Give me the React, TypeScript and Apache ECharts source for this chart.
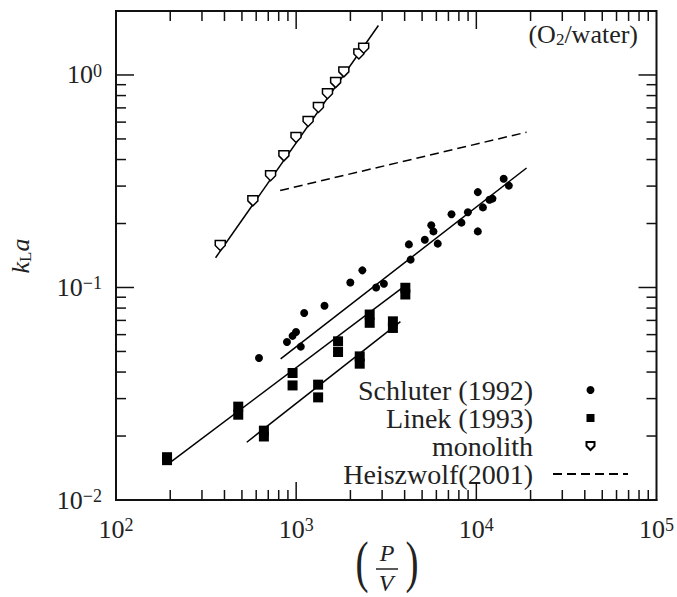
import { useEffect, useRef, useState } from 'react';
import * as echarts from 'echarts';

// ---- data ----
const schluterX = [622, 889, 955, 998, 1061, 1108, 1436, 1998, 2330, 2779, 3069, 4223, 4317, 5177, 5622, 5780, 6107, 7283, 8266, 8978, 10188, 10188, 10884, 11820, 12290, 14180, 15150];
const schluterY = [0.0466, 0.0554, 0.0592, 0.0617, 0.0527, 0.0758, 0.082, 0.1055, 0.1204, 0.1, 0.1042, 0.1595, 0.1352, 0.1677, 0.1962, 0.1836, 0.1608, 0.2212, 0.2019, 0.2258, 0.2811, 0.1836, 0.2382, 0.2588, 0.262, 0.3249, 0.3016];

const linekX = [192, 192, 477, 477, 955, 955, 1708, 1708, 2559, 2559, 4036, 4036, 662, 662, 1324, 1324, 2253, 2253, 3443, 3443];
const linekY = [0.0159, 0.0154, 0.0275, 0.0252, 0.0396, 0.0346, 0.0558, 0.0497, 0.0746, 0.0682, 0.0997, 0.0927, 0.0212, 0.0199, 0.0349, 0.0304, 0.0474, 0.0438, 0.0693, 0.0645];

const monolithX = [379, 575, 721, 855, 998, 1165, 1329, 1492, 1656, 1839, 2228, 2370];
const monolithY = [0.1575, 0.2556, 0.3357, 0.4164, 0.5076, 0.604, 0.7036, 0.8165, 0.9207, 1.034, 1.255, 1.336];

const heiszwolfX = [815, 19000];
const heiszwolfY = [0.286, 0.538];

const fitLinekUpperX = [195, 4150];
const fitLinekUpperY = [0.0148, 0.104];
const fitLinekLowerX = [532, 3790];
const fitLinekLowerY = [0.0187, 0.0691];
const fitSchluterX = [820, 19000];
const fitSchluterY = [0.0461, 0.365];
const fitMonolithX = [357, 2860];
const fitMonolithY = [0.138, 1.71];

const xMin = 100;
const xMax = 100000;
const yMin = 0.01;
const yMax = 2;
const xMajorTicks = [1000, 10000];
const xMinorTicks = [200, 300, 400, 500, 600, 700, 800, 900, 2000, 3000, 4000, 5000, 6000, 7000, 8000, 9000, 20000, 30000, 40000, 50000, 60000, 70000, 80000, 90000];
const yMajorTicks = [0.1, 1];
const yMinorTicks = [0.02, 0.03, 0.04, 0.05, 0.06, 0.07, 0.08, 0.09, 0.2, 0.3, 0.4, 0.5, 0.6, 0.7, 0.8, 0.9];

const legendNames = ['Schluter (1992)', 'Linek (1993)', 'monolith', 'Heiszwolf(2001)'];

const FONT = 'Liberation Serif';
const TXT = '#222';
const AX = '#111';

const pairs = (xs: number[], ys: number[]) => xs.map((x, i) => [x, ys[i]]);

const fmt = (v: number) => {
  const e = Math.round(Math.log10(v));
  return `{b|10}{s|${e < 0 ? '\u2212' + Math.abs(e) : e}}`;
};

export default function App() {
  const ref = useRef<HTMLDivElement>(null);
  const [err, setErr] = useState('');
  useEffect(() => {
    if (!ref.current) return;
    const chart = echarts.init(ref.current, null, { renderer: 'svg' });
    try {
      const fitLine = (xs: number[], ys: number[]) => ({
        type: 'line',
        data: pairs(xs, ys),
        symbol: 'none',
        showSymbol: false,
        lineStyle: { color: '#000', width: 1.5 },
        silent: true,
        z: 2,
      });
      const labelRich = {
        b: { fontFamily: FONT, fontSize: 26, color: TXT, lineHeight: 26 },
        s: { fontFamily: FONT, fontSize: 18, color: TXT, lineHeight: 16, verticalAlign: 'top' },
      };
      chart.setOption({
        animation: false,
        backgroundColor: '#fff',
        grid: { left: 116, right: 19, top: 11, bottom: 97, show: true, borderColor: AX, borderWidth: 2, backgroundColor: 'transparent' },
        xAxis: {
          type: 'log',
          min: xMin,
          max: xMax,
          axisLine: { show: true, onZero: false, lineStyle: { color: AX, width: 2 } },
          axisTick: { show: false },
          splitLine: { show: false },
          axisLabel: { formatter: fmt, fontFamily: FONT, fontSize: 26, color: TXT, margin: 16, rich: labelRich },
        },
        yAxis: {
          type: 'log',
          min: yMin,
          max: yMax,
          axisLine: { show: true, onZero: false, lineStyle: { color: AX, width: 2 } },
          axisTick: { show: false },
          splitLine: { show: false },
          axisLabel: { formatter: fmt, fontFamily: FONT, fontSize: 26, color: TXT, margin: 14, showMaxLabel: false, rich: labelRich },
        },
        legend: {
          data: legendNames,
          orient: 'vertical',
          align: 'right',
          right: 43,
          top: 371,
          itemWidth: 75,
          itemHeight: 8,
          itemGap: 0,
          selectedMode: false,
          textStyle: { fontFamily: FONT, fontSize: 28, color: TXT, lineHeight: 27.5, padding: [0, 15, 0, 0] },
        },
        series: [
          fitLine(fitLinekUpperX, fitLinekUpperY),
          fitLine(fitLinekLowerX, fitLinekLowerY),
          fitLine(fitSchluterX, fitSchluterY),
          fitLine(fitMonolithX, fitMonolithY),
          {
            type: 'line',
            name: legendNames[3],
            data: pairs(heiszwolfX, heiszwolfY),
            symbol: 'none',
            showSymbol: false,
            lineStyle: { color: '#000', width: 1.5, type: [9, 5] },
            itemStyle: { color: '#000', opacity: 0 },
            silent: true,
            z: 2,
          },
          {
            type: 'scatter',
            name: legendNames[0],
            data: pairs(schluterX, schluterY),
            symbol: 'circle',
            symbolSize: 8,
            itemStyle: { color: '#000', opacity: 1 },
            silent: true,
            z: 3,
          },
          {
            type: 'scatter',
            name: legendNames[1],
            data: pairs(linekX, linekY),
            symbol: 'path://M0,0H10V10H0Z',
            symbolSize: 10,
            itemStyle: { color: '#000', opacity: 1 },
            silent: true,
            z: 3,
          },
          {
            type: 'scatter',
            name: legendNames[2],
            data: pairs(monolithX, monolithY),
            symbol: 'path://M0,0L10,0L10,5L5,10L0,5Z',
            symbolSize: 10,
            itemStyle: { color: '#fff', borderColor: '#000', borderWidth: 1.5, opacity: 1 },
            silent: true,
            z: 4,
          },
        ],
      });

      // ticks on all four sides, placed through the axes' own scales
      const px = (v: number) => chart.convertToPixel({ xAxisIndex: 0 }, v) as number;
      const py = (v: number) => chart.convertToPixel({ yAxisIndex: 0 }, v) as number;
      const bY = py(yMin);
      const tY = py(yMax);
      const lX = px(xMin);
      const rX = px(xMax);
      const els: any[] = [];
      const addX = (v: number, len: number) => {
        const x = px(v);
        els.push({ type: 'line', z: 10, shape: { x1: x, y1: bY, x2: x, y2: bY - len }, style: { stroke: AX, lineWidth: 1.5 } });
        els.push({ type: 'line', z: 10, shape: { x1: x, y1: tY, x2: x, y2: tY + len }, style: { stroke: AX, lineWidth: 1.5 } });
      };
      const addY = (v: number, len: number) => {
        const y = py(v);
        els.push({ type: 'line', z: 10, shape: { x1: lX, y1: y, x2: lX + len, y2: y }, style: { stroke: AX, lineWidth: 1.5 } });
        els.push({ type: 'line', z: 10, shape: { x1: rX, y1: y, x2: rX - len, y2: y }, style: { stroke: AX, lineWidth: 1.5 } });
      };
      xMajorTicks.forEach((v) => addX(v, 18));
      xMinorTicks.forEach((v) => addX(v, 10));
      yMajorTicks.forEach((v) => addY(v, 18));
      yMinorTicks.forEach((v) => addY(v, 10));

      chart.setOption({
        graphic: [
          ...els,
          {
            type: 'text',
            x: 20,
            y: 256,
            rotation: Math.PI / 2,
            style: {
              text: '{k|k}{L|L}{a|a}',
              textAlign: 'center',
              textVerticalAlign: 'middle',
              fontFamily: FONT,
              fontSize: 26,
              fill: TXT,
              rich: {
                k: { fontFamily: FONT, fontSize: 26, fontStyle: 'italic', fill: TXT, lineHeight: 28 },
                L: { fontFamily: FONT, fontSize: 17, fill: TXT, lineHeight: 18, verticalAlign: 'bottom' },
                a: { fontFamily: FONT, fontSize: 26, fontStyle: 'italic', fill: TXT, lineHeight: 28 },
              },
            },
          },
          {
            type: 'text',
            x: 638,
            y: 20,
            style: {
              text: '{t|(O}{s|2}{t|/water)}',
              textAlign: 'right',
              textVerticalAlign: 'top',
              fontFamily: FONT,
              fontSize: 26,
              fill: TXT,
              rich: {
                t: { fontFamily: FONT, fontSize: 26, fill: TXT, lineHeight: 28 },
                s: { fontFamily: FONT, fontSize: 17, fill: TXT, lineHeight: 18, verticalAlign: 'bottom' },
              },
            },
          },
          { type: 'text', x: 362, y: 562, scaleX: 0.7, style: { text: '(', fontFamily: FONT, fontSize: 56, fill: TXT, textAlign: 'center', textVerticalAlign: 'middle' } },
          { type: 'text', x: 412, y: 562, scaleX: 0.7, style: { text: ')', fontFamily: FONT, fontSize: 56, fill: TXT, textAlign: 'center', textVerticalAlign: 'middle' } },
          { type: 'text', x: 387, y: 553, style: { text: 'P', fontFamily: FONT, fontSize: 24, fontStyle: 'italic', fill: TXT, textAlign: 'center', textVerticalAlign: 'middle' } },
          { type: 'line', shape: { x1: 376, y1: 569, x2: 398, y2: 569 }, style: { stroke: TXT, lineWidth: 1.5 } },
          { type: 'text', x: 386, y: 583, style: { text: 'V', fontFamily: FONT, fontSize: 24, fontStyle: 'italic', fill: TXT, textAlign: 'center', textVerticalAlign: 'middle' } },
        ],
      });
    } catch (e: any) {
      setErr(String(e && e.message ? e.message : e));
    }
    return () => chart.dispose();
  }, []);
  return (
    <div>
      <div ref={ref} style={{ position: 'absolute', left: 0, top: 0, width: 677, height: 597 }} />
      {err ? <div style={{ position: 'absolute', left: 130, top: 100, fontSize: 10, color: 'red' }}>{err}</div> : null}
    </div>
  );
}
